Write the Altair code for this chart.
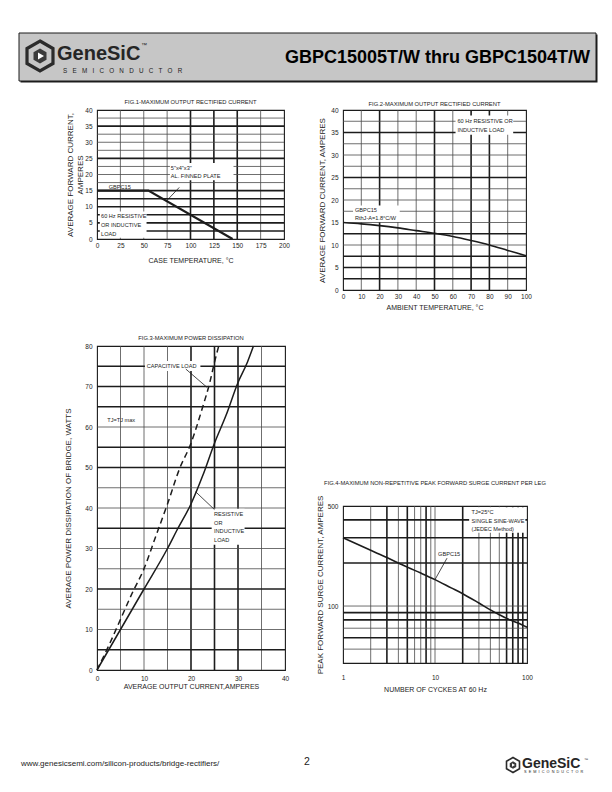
import altair as alt
import pandas as pd

FONT = "Liberation Sans"
INK = "#1c1c1c"
THIN = "#4a4a4a"
NB = "\u00a0"

# ---------------- FIG.1 : max output rectified current vs case temperature
fig1_case_temp = [0, 55, 145]
fig1_current = [15, 15, 0]
fig1_x_ticks = [0, 25, 50, 75, 100, 125, 150, 175, 200]
fig1_y_ticks = [0, 5, 10, 15, 20, 25, 30, 35, 40]
fig1_grid_x_thin = [25, 50, 75, 175]
fig1_grid_x_bold = [100, 125, 150]
fig1_grid_y_thin = [37.5, 32.5, 30, 27.5, 22.5, 20, 17.5]
fig1_grid_y_bold = [35, 25, 15, 12.5, 10, 7.5, 5, 2.5]
fig1_text = ["GBPC15", '5"x4"x3"', "AL. FINNED PLATE", "60 Hz RESISTIVE", "OR INDUCTIVE", "LOAD"]
fig1_text_x = [12.5, 79, 79, 4.3, 4.3, 4.3]
fig1_text_y = [16.2, 22.0, 19.5, 7.2, 4.4, 1.6]
fig1_box = {"x": [78, 3], "x2": [146, 53], "y": [18.2, 0.4], "y2": [23.6, 8.5]}
fig1_leader = {"x": [88], "x2": [74], "y": [16], "y2": [11.7]}

# ---------------- FIG.2 : max output rectified current vs ambient temperature
fig2_amb_temp = [0, 10, 20, 30, 40, 50, 60, 70, 80, 90, 100]
fig2_current = [15.0, 14.7, 14.3, 13.8, 13.2, 12.6, 11.9, 11.0, 10.0, 8.8, 7.6]
fig2_x_ticks = [0, 10, 20, 30, 40, 50, 60, 70, 80, 90, 100]
fig2_y_ticks = [0, 5, 10, 15, 20, 25, 30, 35, 40]
fig2_grid_x_thin = [10, 30, 40, 60, 90]
fig2_grid_x_bold = [20, 50, 70, 80]
fig2_grid_y_thin = [37.5, 32.5, 30, 27.5, 22.5, 20, 17.5, 15, 10]
fig2_grid_y_bold = [35, 25, 12.5, 7.5, 5, 2.5]
fig2_text = ["60 Hz RESISTIVE OR", "INDUCTIVE LOAD", "GBPC15", "RthJ-A=1.8°C/W"]
fig2_text_x = [62.5, 62.5, 6.5, 6.5]
fig2_text_y = [37.6, 35.6, 17.8, 16.0]
fig2_box = {"x": [61.5, 5.5], "x2": [93, 31], "y": [34.5, 15.1], "y2": [38.8, 18.8]}

# ---------------- FIG.3 : max power dissipation
fig3_cap_current = [0, 2.5, 5, 7.5, 10, 12.5, 15, 17.5, 20, 22.5, 24, 25, 25.9]
fig3_cap_power = [0, 6, 12.5, 19, 25, 33, 41, 49.5, 56, 65, 71, 76, 80]
fig3_res_current = [0, 5, 10, 15, 17, 20, 22.5, 25, 27.5, 30, 32, 33.3]
fig3_res_power = [0, 10, 20, 30, 34.5, 41, 48, 56, 63, 71, 76, 80]
fig3_x_ticks = [0, 10, 20, 30, 40]
fig3_y_ticks = [0, 10, 20, 30, 40, 50, 60, 70, 80]
fig3_grid_x_thin = [5, 10, 15, 35]
fig3_grid_x_bold = [20, 25, 30]
fig3_grid_y_thin = [60, 45, 40, 30, 25, 15, 10]
fig3_grid_y_bold = [75, 70, 65, 55, 50, 35, 20, 5]
fig3_text = ["CAPACITIVE LOAD", "TJ=TJ max", "RESISTIVE", "OR", "INDUCTIVE", "LOAD"]
fig3_text_x = [10.6, 2.2, 24.9, 24.9, 24.9, 24.9]
fig3_text_y = [75.0, 61.8, 38.6, 36.4, 34.2, 32.0]
fig3_box = {"x": [10.2, 24.4], "x2": [22.0, 31.4], "y": [73.8, 30.9], "y2": [76.3, 39.8]}
fig3_leader = {"x": [18.9, 21.0], "x2": [23.4, 25.0], "y": [74.3, 44.0], "y2": [69.8, 39.6]}

# ---------------- FIG.4 : non-repetitive peak forward surge current
fig4_cycles = [1, 2, 3, 4, 5, 7, 10, 15, 20, 30, 40, 50, 60, 80, 100]
fig4_surge = [300, 245, 218, 200, 187, 170, 153, 134, 122, 105, 94, 87, 82, 76, 71]
fig4_x_ticks = [1, 10, 100]
fig4_y_ticks = [100, 500]
fig4_grid_x_thin = [2, 4, 6, 7, 9, 10, 30, 40, 50]
fig4_grid_x_bold = [3, 5, 8, 20, 60, 70, 80, 90]
fig4_grid_y_thin = [100, 70, 50]
fig4_grid_y_bold = [400, 300, 200, 90, 80, 60]
fig4_text = ["TJ=25°C", "SINGLE SINE-WAVE", "(JEDEC Method)", "GBPC15"]
fig4_text_x = [25, 25, 25, 10.8]
fig4_text_y = [452, 394, 347, 232]
fig4_box = {"x": [23.5], "x2": [96], "y": [325], "y2": [490]}
fig4_leader = {"x": [13.5], "x2": [10.0], "y": [216], "y2": [153]}


def x_axis(values, title, lpad, tpad, fmt=None):
    kw = dict(values=values, title=title, ticks=False, domain=False, grid=False,
              labelFlush=False, labelOverlap=False, labelFont=FONT, labelFontSize=6.5,
              labelColor=INK, labelPadding=lpad, titleFont=FONT, titleFontSize=7,
              titleFontWeight="normal", titleColor=INK, titlePadding=tpad)
    if fmt:
        kw["format"] = fmt
    return alt.Axis(**kw)


def y_axis(values, title, lpad, tpad, fmt=None):
    kw = dict(values=values, title=title, ticks=False, domain=False, grid=False,
              labelOverlap=False, labelFont=FONT, labelFontSize=6.5, labelColor=INK,
              labelPadding=lpad, titleFont=FONT, titleFontSize=8,
              titleFontWeight="normal", titleColor=INK, titlePadding=tpad,
              titleLineHeight=10)
    if fmt:
        kw["format"] = fmt
    return alt.Axis(**kw)


def panel(xs, ys, xax, yax, grids, curves, box, texts, leader, width, height, title, toff):
    # every layer carries the same axis definition so the shared axes merge cleanly
    X = lambda f: alt.X(f, scale=xs, axis=xax)
    Y = lambda f: alt.Y(f, scale=ys, axis=yax)
    layers = []
    for ch, vals, w, col in grids:
        df = pd.DataFrame({"v": vals})
        enc = {"x": X("v:Q")} if ch == "x" else {"y": Y("v:Q")}
        layers.append(alt.Chart(df).mark_rule(color=col, strokeWidth=w).encode(**enc))
    if box:
        layers.append(alt.Chart(pd.DataFrame(box)).mark_rect(fill="white").encode(
            x=X("x:Q"), x2="x2:Q", y=Y("y:Q"), y2="y2:Q"))
    for cx, cy, w, dash, interp in curves:
        df = pd.DataFrame({"x": cx, "y": cy, "i": list(range(len(cx)))})
        mk = dict(color=INK, strokeWidth=w, interpolate=interp)
        if dash:
            mk["strokeDash"] = dash
        layers.append(alt.Chart(df).mark_line(**mk).encode(
            x=X("x:Q"), y=Y("y:Q"), order="i:Q"))
    if leader:
        layers.append(alt.Chart(pd.DataFrame(leader)).mark_rule(color=INK, strokeWidth=0.8).encode(
            x=X("x:Q"), x2="x2:Q", y=Y("y:Q"), y2="y2:Q"))
    tx, ty, tt = texts
    layers.append(alt.Chart(pd.DataFrame({"x": tx, "y": ty, "t": tt})).mark_text(
        align="left", baseline="middle", font=FONT, fontSize=5.6, color=INK).encode(
        x=X("x:Q"), y=Y("y:Q"), text="t:N"))
    return alt.layer(*layers).properties(
        width=width, height=height,
        view=alt.ViewBackground(stroke=INK, strokeWidth=1.1),
        title=alt.Title(title, font=FONT, fontSize=5.8, fontWeight="normal", color=INK,
                        anchor="middle", offset=toff))


def grid_set(xt, xb, yt, yb):
    return [("x", xt, 0.8, THIN), ("x", xb, 1.6, INK), ("y", yt, 0.8, THIN), ("y", yb, 1.6, INK)]


# FIG 1
xs1 = alt.Scale(domain=[0, 200], nice=False, zero=False)
ys1 = alt.Scale(domain=[0, 40], nice=False, zero=False)
c1 = panel(xs1, ys1,
           x_axis(fig1_x_ticks, "CASE TEMPERATURE, °C", 3, 8),
           y_axis(fig1_y_ticks, ["AVERAGE FORWARD CURRENT,", "AMPERES"], 5, 0),
           grid_set(fig1_grid_x_thin, fig1_grid_x_bold, fig1_grid_y_thin, fig1_grid_y_bold),
           [(fig1_case_temp, fig1_current, 2.2, None, "linear")],
           fig1_box, (fig1_text_x, fig1_text_y, fig1_text), fig1_leader,
           187, 129, "FIG.1-MAXIMUM OUTPUT RECTIFIED CURRENT", 2)

# FIG 2
xs2 = alt.Scale(domain=[0, 100], nice=False, zero=False)
ys2 = alt.Scale(domain=[0, 40], nice=False, zero=False)
c2 = panel(xs2, ys2,
           x_axis(fig2_x_ticks, "AMBIENT TEMPERATURE, °C", 3, 4),
           y_axis(fig2_y_ticks, "AVERAGE FORWARD CURRENT, AMPERES", 5, 4),
           grid_set(fig2_grid_x_thin, fig2_grid_x_bold, fig2_grid_y_thin, fig2_grid_y_bold),
           [(fig2_amb_temp, fig2_current, 1.6, None, "monotone")],
           fig2_box, (fig2_text_x, fig2_text_y, fig2_text), None,
           183, 180, "FIG.2-MAXIMUM OUTPUT RECTIFIED CURRENT", 0)

# FIG 3
xs3 = alt.Scale(domain=[0, 40], nice=False, zero=False)
ys3 = alt.Scale(domain=[0, 80], nice=False, zero=False)
c3 = panel(xs3, ys3,
           x_axis(fig3_x_ticks, "AVERAGE OUTPUT CURRENT,AMPERES", 5, 1),
           y_axis(fig3_y_ticks, "AVERAGE POWER DISSIPATION OF BRIDGE, WATTS", 5, 12),
           grid_set(fig3_grid_x_thin, fig3_grid_x_bold, fig3_grid_y_thin, fig3_grid_y_bold),
           [(fig3_res_current, fig3_res_power, 1.5, None, "monotone"),
            (fig3_cap_current, fig3_cap_power, 1.5, [6, 4], "monotone")],
           fig3_box, (fig3_text_x, fig3_text_y, fig3_text), fig3_leader,
           188, 324, "FIG.3-MAXIMUM POWER DISSIPATION", 2)

# FIG 4
xs4 = alt.Scale(type="log", domain=[1, 100], nice=False)
ys4 = alt.Scale(type="log", domain=[40, 500], nice=False)
c4 = panel(xs4, ys4,
           x_axis(fig4_x_ticks, "NUMBER OF CYCKES AT 60 Hz", 11, 5, "d"),
           y_axis(fig4_y_ticks, "PEAK FORWARD SURGE CURRENT, AMPERES", 5, 3, "d"),
           grid_set(fig4_grid_x_thin, fig4_grid_x_bold, fig4_grid_y_thin, fig4_grid_y_bold),
           [(fig4_cycles, fig4_surge, 1.6, None, "monotone")],
           fig4_box, (fig4_text_x, fig4_text_y, fig4_text), fig4_leader,
           184, 157, "FIG.4-MAXIMUM NON-REPETITIVE PEAK FORWARD SURGE CURRENT PER LEG", 9)

# ---------------- page header / footer (decoration)
HEX = "M0,-1L0.866,-0.5L0.866,0.5L0,1L-0.866,0.5L-0.866,-0.5Z"
dummy = pd.DataFrame({"a": [0]})


def txt(s, x, y, size, weight="normal", align="left", color=INK, baseline="middle"):
    return alt.Chart(dummy).mark_text(text=s, font=FONT, fontSize=size, fontWeight=weight,
                                      align=align, baseline=baseline, color=color).encode(
        x=alt.value(x), y=alt.value(y))


def logo(cx, cy, scale):
    s = scale
    return [
        alt.Chart(dummy).mark_point(shape=HEX, size=(30 * s) ** 2, filled=False,
                                    stroke="#2b2b2b", strokeWidth=3.2 * s, opacity=1).encode(
            x=alt.value(cx), y=alt.value(cy)),
        alt.Chart(dummy).mark_point(shape=HEX, size=(15 * s) ** 2, filled=True,
                                    fill="#3a3a3a", opacity=1).encode(
            x=alt.value(cx), y=alt.value(cy)),
        alt.Chart(dummy).mark_point(shape="triangle-right", size=(7 * s) ** 2, filled=True,
                                    fill="white", opacity=1).encode(
            x=alt.value(cx + 1 * s), y=alt.value(cy)),
    ]


header_layers = [
    alt.Chart(dummy).mark_rect(fill=INK).encode(
        x=alt.value(-76.5), x2=alt.value(500.5), y=alt.value(1.5), y2=alt.value(49.5)),
    alt.Chart(dummy).mark_rect(fill="#c6c6c6", stroke=INK, strokeWidth=1).encode(
        x=alt.value(-78), x2=alt.value(499), y=alt.value(0), y2=alt.value(48)),
] + logo(-57, 23, 1.0) + [
    txt("GeneSiC", -40, 27, 20, "bold", baseline="alphabetic", color="#262626"),
    txt("™", 44, 12, 6),
    txt((NB * 3).join("SEMICONDUCTOR"), -34, 38, 6.3),
    txt("GBPC15005T/W thru GBPC1504T/W", 493, 25, 18, "bold", align="right", color="black"),
]
header = alt.layer(*header_layers).properties(
    width=499, height=48, view=alt.ViewBackground(stroke="transparent"))

FY = 54
footer_layers = [
    txt("www.genesicsemi.com/silicon-products/bridge-rectifiers/", -76, FY, 8),
    txt("2", 210, FY - 2, 10.5, align="center"),
] + logo(416, FY + 1, 0.5) + [
    txt("GeneSiC", 425, FY + 4, 14, "bold", baseline="alphabetic", color="#262626"),
    txt("™", 487, FY - 4, 4),
    txt((NB * 2).join("SEMICONDUCTOR"), 427, FY + 8, 3.8),
]
footer = alt.layer(*footer_layers).properties(
    width=499, height=72, view=alt.ViewBackground(stroke="transparent"))

left = alt.vconcat(c1, c3, spacing=107, bounds="flush")
right = alt.vconcat(c2, c4, spacing=216, bounds="flush")
body = alt.hconcat(left, right, spacing=25)

chart = alt.vconcat(header, body, footer, spacing=15).properties(
    padding={"left": 10, "top": 24, "right": 5, "bottom": 5}
).configure_view(stroke="transparent").configure(background="white")

chart.save("out.html", embed_options={"renderer": "svg", "actions": False})
